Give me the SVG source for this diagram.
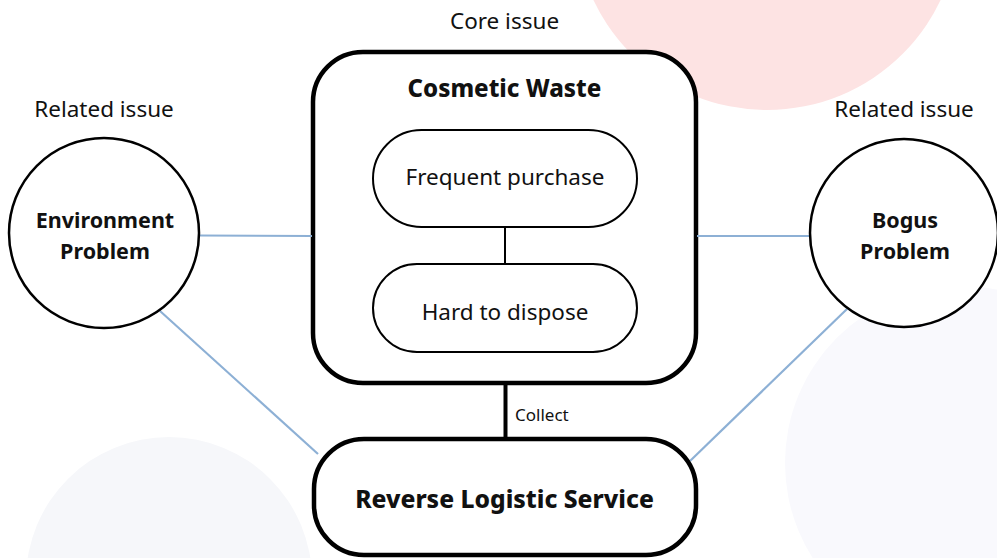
<svg xmlns="http://www.w3.org/2000/svg" width="997" height="558" viewBox="0 0 997 558">
  <style>
    text { font-family: "Noto Sans", "Open Sans", "DejaVu Sans", sans-serif; fill: #111; }
    .cap { font-size: 22.5px; text-anchor: middle; }
    .title { font-size: 24px; font-weight: 800; text-anchor: middle; }
    .circ-label { font-size: 21.5px; font-weight: 700; text-anchor: middle; }
    .item { font-size: 22.5px; text-anchor: middle; }
    .small { font-size: 17px; }
    .box { fill: #fff; stroke: #000; stroke-width: 4.5; }
    .pill { fill: #fff; stroke: #000; stroke-width: 2; }
    .ring { fill: #fff; stroke: #000; stroke-width: 2.5; }
    .rel { stroke: #8db0d5; stroke-width: 2.2; fill: none; }
    .link { stroke: #000; fill: none; }
  </style>

  <!-- soft background discs -->
  <g id="backdrop">
    <circle cx="767" cy="-82" r="192" fill="#fde3e3"/>
    <circle cx="169" cy="580" r="143" fill="#f6f7fa"/>
    <circle cx="962" cy="463" r="177" fill="#f9f9fd"/>
  </g>

  <!-- core issue container -->
  <g id="cosmetic-waste">
    <text class="cap" x="504.5" y="29">Core issue</text>
    <rect class="box" x="313" y="52" width="383" height="331" rx="50"/>
    <text class="title" x="504.5" y="97">Cosmetic Waste</text>
  </g>

  <!-- connectors -->
  <g id="connectors">
    <line class="rel" x1="200" y1="235.5" x2="312" y2="236"/>
    <line class="rel" x1="697" y1="236" x2="810" y2="236"/>
    <line class="rel" x1="160" y1="311" x2="318" y2="454"/>
    <line class="rel" x1="847" y1="309" x2="690" y2="461"/>
    <line class="link" x1="505" y1="227" x2="505" y2="264" stroke-width="2"/>
    <line class="link" x1="505.5" y1="383" x2="505.5" y2="438" stroke-width="4"/>
    <text class="small" x="515" y="421">Collect</text>
  </g>

  <g id="frequent-purchase">
    <rect class="pill" x="373" y="130" width="264" height="97" rx="48.5"/>
    <text class="item" x="505" y="185">Frequent purchase</text>
  </g>

  <g id="hard-to-dispose">
    <rect class="pill" x="373" y="264" width="264" height="88" rx="44"/>
    <text class="item" x="505" y="320">Hard to dispose</text>
  </g>

  <!-- related issues -->
  <g id="environment-problem">
    <text class="cap" x="104" y="117">Related issue</text>
    <circle class="ring" cx="104" cy="233" r="95"/>
    <text class="circ-label" x="105" y="228">Environment</text>
    <text class="circ-label" x="105" y="259">Problem</text>
  </g>

  <g id="bogus-problem">
    <text class="cap" x="904" y="117">Related issue</text>
    <circle class="ring" cx="904" cy="233" r="94"/>
    <text class="circ-label" x="905" y="228">Bogus</text>
    <text class="circ-label" x="905" y="259">Problem</text>
  </g>

  <!-- service -->
  <g id="reverse-logistic-service">
    <rect class="box" x="314" y="439" width="382" height="116" rx="50"/>
    <text class="title" x="504.5" y="508" style="font-size:24.6px">Reverse Logistic Service</text>
  </g>
</svg>
